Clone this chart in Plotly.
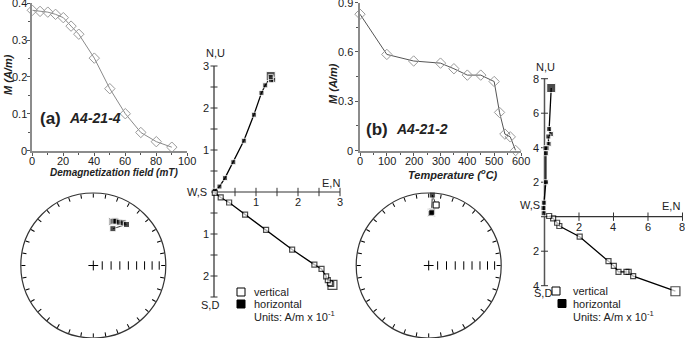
import numpy as np
import plotly.graph_objects as go

W, H = 685, 338
FONT = "Liberation Sans, Arial, sans-serif"
TXT = "#222222"

# ---------------- data ----------------
# (a) AF demagnetization of A4-21-4
field_a = [0, 5, 10, 15, 20, 25, 30, 40, 50, 60, 70, 80, 90]
M_a = [0.381, 0.378, 0.376, 0.370, 0.361, 0.338, 0.316, 0.251, 0.168, 0.100, 0.049, 0.024, 0.009]
# (b) thermal demagnetization of A4-21-2
temp_b = [0, 100, 200, 300, 350, 400, 450, 500, 520, 540, 560, 580]
M_b = [0.83, 0.585, 0.545, 0.532, 0.498, 0.459, 0.459, 0.42, 0.232, 0.10, 0.083, 0.0]

# Zijderveld (a), units A/m x 10^-1
zh_a_x = [1.35, 1.36, 1.41, 1.36, 1.35, 1.22, 1.13, 0.95, 0.71, 0.46, 0.26, 0.13, 0.02]
zh_a_y = [2.76, 2.70, 2.67, 2.66, 2.74, 2.54, 2.36, 1.84, 1.22, 0.71, 0.33, 0.13, 0.03]
zv_a_x = [2.82, 2.79, 2.76, 2.71, 2.67, 2.56, 2.39, 1.86, 1.24, 0.74, 0.36, 0.16, 0.02]
zv_a_y = [-2.21, -2.19, -2.17, -2.10, -2.01, -1.83, -1.73, -1.37, -0.90, -0.54, -0.25, -0.13, -0.02]
# Zijderveld (b)
zh_b_x = [0.39, 0.27, 0.37, 0.22, 0.24, 0.14, 0.06, 0.08, 0.08, -0.04, -0.06, -0.05]
zh_b_y = [7.46, 5.08, 4.79, 4.65, 4.22, 3.97, 3.97, 3.68, 2.00, 0.81, 0.50, 0.20]
zv_b_x = [7.59, 5.14, 4.88, 4.75, 4.29, 4.02, 3.71, 2.04, 0.86, 0.73, 0.50, 0.27]
zv_b_y = [-4.32, -3.45, -3.20, -3.20, -3.20, -2.85, -2.58, -1.16, -0.54, -0.35, -0.10, 0.04]

# stereonet directions (declination, inclination in degrees)
dec_a = [24, 25, 24, 26, 25, 27, 31, 35, 39, 28]
inc_a = [34, 33, 34, 32, 33, 32, 31, 29, 28, 42]
dec_b = [3, 2, 3, 4, 2, 3, 3, 2, 4, 3, 3, 7]
inc_b = [28, 27, 29, 27, 28, 26, 28, 29, 27, 28, 3, -17]

# axis tick values
top_a_xticks = [0, 20, 40, 60, 80, 100]
top_a_yticks = [0, 0.1, 0.2, 0.3, 0.4]
top_b_xticks = [0, 100, 200, 300, 400, 500, 600]
top_b_yticks = [0, 0.3, 0.6, 0.9]
zij_a_xticks = [1, 2, 3]
zij_a_yticks = [3, 2, 1, -1, -2]
zij_b_xticks = [2, 4, 6, 8]
zij_b_yticks = [8, 6, 4, 2, -2, -4]
inc_ticks = [80, 70, 60, 50, 40, 30, 20, 10]


def px(x):
    return x / W


def py(y):
    return 1 - y / H


def eqarea(inc):
    return [np.sqrt(2) * np.sin(np.radians(90 - abs(i)) / 2) for i in inc]


def fmt(v):
    return ("%g" % v)


fig = go.Figure()

# ---------------- top demag curves ----------------
fig.add_trace(go.Scatter(x=field_a, y=M_a, mode="lines+markers", xaxis="x", yaxis="y",
                         line=dict(color="#8a8a8a", width=1),
                         marker=dict(symbol="diamond-open", size=8, color="#9a9a9a", line=dict(width=1)),
                         showlegend=False, cliponaxis=False))
fig.add_trace(go.Scatter(x=temp_b, y=M_b, mode="lines+markers", xaxis="x2", yaxis="y2",
                         line=dict(color="#555555", width=1),
                         marker=dict(symbol="diamond-open", size=8, color="#9a9a9a", line=dict(width=1)),
                         showlegend=False, cliponaxis=False))

for xa, ya, xt, yt, ygap in [("x", "y", top_a_xticks, top_a_yticks, -3),
                             ("x2", "y2", top_b_xticks, top_b_yticks, -5)]:
    for v in xt:
        fig.add_annotation(x=v, y=0, xref=xa, yref=ya, text=fmt(v), showarrow=False,
                           yanchor="middle", yshift=-10, font=dict(size=11, color=TXT, family=FONT))
    for v in yt:
        fig.add_annotation(x=0, y=v, xref=xa, yref=ya, text=fmt(v), showarrow=False,
                           xanchor="right", xshift=ygap, font=dict(size=11, color=TXT, family=FONT))


# ---------------- Zijderveld ----------------
def zij(xa, ya, hx, hy, vx, vy, xr, yr, xt, yt, tick_all):
    fig.add_trace(go.Scatter(x=[0, 0], y=[yr[0], yr[1]], mode="lines", xaxis=xa, yaxis=ya,
                             line=dict(color="#555555", width=1.5), showlegend=False, hoverinfo="skip"))
    fig.add_trace(go.Scatter(x=[xr[0], xr[1]], y=[0, 0], mode="lines", xaxis=xa, yaxis=ya,
                             line=dict(color="#333333", width=1.2), showlegend=False, hoverinfo="skip"))
    fig.add_trace(go.Scatter(x=[0] * len(tick_all[1]), y=tick_all[1], mode="markers", xaxis=xa, yaxis=ya,
                             marker=dict(symbol="line-ew", size=5, line=dict(color="#333333", width=1)),
                             showlegend=False, hoverinfo="skip", cliponaxis=False))
    fig.add_trace(go.Scatter(x=tick_all[0], y=[0] * len(tick_all[0]), mode="markers", xaxis=xa, yaxis=ya,
                             marker=dict(symbol="line-ns", size=6, line=dict(color="#333333", width=1)),
                             showlegend=False, hoverinfo="skip", cliponaxis=False))
    n = len(hx)
    sizes = [9] + [5] * (n - 1)
    fig.add_trace(go.Scatter(x=hx, y=hy, mode="lines+markers", xaxis=xa, yaxis=ya,
                             line=dict(color="black", width=1.3),
                             marker=dict(symbol="square", size=sizes, color="black"),
                             showlegend=False, cliponaxis=False))
    n = len(vx)
    sizes = [9] + [5] * (n - 1)
    fig.add_trace(go.Scatter(x=vx, y=vy, mode="lines+markers", xaxis=xa, yaxis=ya,
                             line=dict(color="black", width=1.3),
                             marker=dict(symbol="square", size=sizes, color="white",
                                         line=dict(color="black", width=1.2)),
                             showlegend=False, cliponaxis=False))
    for v in xt:
        fig.add_annotation(x=v, y=0, xref=xa, yref=ya, text=str(abs(v)), showarrow=False,
                           yanchor="top", yshift=-2, font=dict(size=11, color=TXT, family=FONT))
    for v in yt:
        fig.add_annotation(x=0, y=v, xref=xa, yref=ya, text=str(abs(v)), showarrow=False,
                           xanchor="right", xshift=-3, font=dict(size=11, color=TXT, family=FONT))


zij("x3", "y3", zh_a_x, zh_a_y, zv_a_x, zv_a_y, (-0.07, 3.0), (-2.5, 3.0), zij_a_xticks, zij_a_yticks,
    ([0.5, 1, 1.5, 2, 2.5, 3], [3, 2.5, 2, 1.5, 1, 0.5, -0.5, -1, -1.5, -2, -2.5]))
zij("x4", "y4", zh_b_x, zh_b_y, zv_b_x, zv_b_y, (-0.2, 8.0), (-4.0, 8.0), zij_b_xticks, zij_b_yticks,
    ([2, 4, 6, 8], [8, 6, 4, 2, -2, -4]))


# ---------------- stereonets ----------------
def stereo(sub, dec, inc):
    r = eqarea(inc)
    fig.add_trace(go.Scatterpolar(r=[0], theta=[0], mode="markers", subplot=sub,
                                  marker=dict(symbol="cross-thin", size=7, line=dict(color="black", width=1)),
                                  showlegend=False, hoverinfo="skip"))
    fig.add_trace(go.Scatterpolar(r=eqarea(inc_ticks), theta=[90] * len(inc_ticks), mode="markers", subplot=sub,
                                  marker=dict(symbol="line-ns", size=6, line=dict(color="black", width=1)),
                                  showlegend=False, hoverinfo="skip"))
    fig.add_trace(go.Scatterpolar(r=r, theta=dec, mode="lines", subplot=sub,
                                  line=dict(color="black", width=0.8), showlegend=False))
    down = [i for i, v in enumerate(inc) if v >= 0]
    up = [i for i, v in enumerate(inc) if v < 0]
    fig.add_trace(go.Scatterpolar(r=[r[i] for i in down], theta=[dec[i] for i in down], mode="markers",
                                  subplot=sub, marker=dict(symbol="square", size=[8 if i == 0 else 6 for i in down],
                                                           color="black"), showlegend=False))
    if up:
        fig.add_trace(go.Scatterpolar(r=[r[i] for i in up], theta=[dec[i] for i in up], mode="markers",
                                      subplot=sub, marker=dict(symbol="square", size=6, color="white",
                                                               line=dict(color="black", width=1)),
                                      showlegend=False))


stereo("polar", dec_a, inc_a)
stereo("polar2", dec_b, inc_b)

polar_common = dict(
    bgcolor="rgba(0,0,0,0)",
    angularaxis=dict(rotation=90, direction="clockwise", ticks="inside", ticklen=4, tickwidth=1,
                     tickcolor="black", dtick=10, showticklabels=False, showgrid=False,
                     linecolor="#333333", linewidth=1.2),
    radialaxis=dict(visible=False, range=[0, 1]),
)

axis_top = dict(showline=True, linecolor="#8c8c8c", linewidth=2, ticks="outside", ticklen=3,
                tickcolor="#555555", showgrid=False, zeroline=False, showticklabels=False)
hidden = dict(visible=False, showgrid=False, zeroline=False)

fig.update_layout(
    width=W, height=H, margin=dict(l=0, r=0, t=0, b=0),
    paper_bgcolor="white", plot_bgcolor="rgba(0,0,0,0)", showlegend=False,
    font=dict(family=FONT, color=TXT),
    xaxis=dict(axis_top, domain=[px(32.3), px(187.3)], range=[0, 100], dtick=20, anchor="y",
               minor=dict(ticks="outside", ticklen=2, dtick=10, tickcolor="#555555")),
    yaxis=dict(axis_top, domain=[py(150.5), py(3.3)], range=[0, 0.4], dtick=0.1, anchor="x",
               minor=dict(ticks="outside", ticklen=2, dtick=0.05, tickcolor="#555555")),
    xaxis2=dict(axis_top, domain=[px(360), px(521)], range=[0, 600], dtick=100, anchor="y2",
                minor=dict(ticks="outside", ticklen=2, dtick=50, tickcolor="#555555")),
    yaxis2=dict(axis_top, domain=[py(150.5), py(2.7)], range=[0, 0.9], dtick=0.3, anchor="x2",
                minor=dict(ticks="outside", ticklen=2, dtick=0.15, tickcolor="#555555")),
    xaxis3=dict(hidden, domain=[px(214 - 0.2 * 42), px(214 + 3.1 * 42)], range=[-0.2, 3.1], anchor="y3"),
    yaxis3=dict(hidden, domain=[py(192 + 2.7 * 42), py(192 - 3.1 * 42)], range=[-2.7, 3.1], anchor="x3"),
    xaxis4=dict(hidden, domain=[px(544.5 - 0.3 * 17.25), px(544.5 + 8.1 * 17.25)], range=[-0.3, 8.1], anchor="y4"),
    yaxis4=dict(hidden, domain=[py(216.7 + 4.6 * 17.25), py(216.7 - 8.3 * 17.25)], range=[-4.6, 8.3], anchor="x4"),
    polar=dict(polar_common, domain=dict(x=[px(93.3 - 72.5), px(93.3 + 72.5)], y=[0, 145 / H])),
    polar2=dict(polar_common, domain=dict(x=[px(428.7 - 72.5), px(428.7 + 72.5)], y=[0, 145 / H])),
)


def note(x, y, text, size=11, xanchor="center", yanchor="middle", textangle=0):
    fig.add_annotation(x=px(x), y=py(y), xref="paper", yref="paper", text=text, showarrow=False,
                       xanchor=xanchor, yanchor=yanchor, textangle=textangle,
                       font=dict(size=size, color=TXT, family=FONT))


# axis titles
note(114, 173, "<b><i>Demagnetization field (mT)</i></b>", 10)
note(8, 75, "<b><i>M (A/m)</i></b>", 11, textangle=-90)
note(453, 174, "<b><i>Temperature (<sup>o</sup>C)</i></b>", 11)
note(333, 84, "<b><i>M (A/m)</i></b>", 11, textangle=-90)
# panel labels
note(38, 118, "<b>(a)</b>", 17, xanchor="left")
note(67, 118, "<b><i>A4-21-4</i></b>", 14, xanchor="left")
note(364, 129, "<b>(b)</b>", 17, xanchor="left")
note(394, 129, "<b><i>A4-21-2</i></b>", 14, xanchor="left")
# Zijderveld labels (a)
note(215, 53, "N,U", 11)
note(331, 183, "E,N", 11)
note(209, 192, "W,S", 11, xanchor="right")
note(210, 305, "S,D", 11)
# Zijderveld labels (b)
note(545, 67, "N,U", 11)
note(671, 206, "E,N", 11)
note(542, 205, "W,S", 11, xanchor="right")
note(543, 293, "S,D", 11)
# legends
note(252, 291.5, "vertical", 11, xanchor="left")
note(252, 304, "horizontal", 11, xanchor="left")
note(252, 316, "Units: A/m x 10<sup>-1</sup>", 11, xanchor="left")
note(571, 290.5, "vertical", 11, xanchor="left")
note(571, 303.5, "horizontal", 11, xanchor="left")
note(571, 316, "Units: A/m x 10<sup>-1</sup>", 11, xanchor="left")
for (lx, ly, fill) in [(241, 292, "white"), (241, 304, "black"), (556, 291, "white"), (562, 303.5, "black")]:
    fig.add_shape(type="rect", xref="paper", yref="paper", x0=px(lx - 4), x1=px(lx + 4),
                  y0=py(ly + 4), y1=py(ly - 4), fillcolor=fill, line=dict(color="black", width=1))

fig.write_html("out.html", config={"displayModeBar": False},
               post_script="document.body.style.margin='0';document.body.style.overflow='hidden';")
